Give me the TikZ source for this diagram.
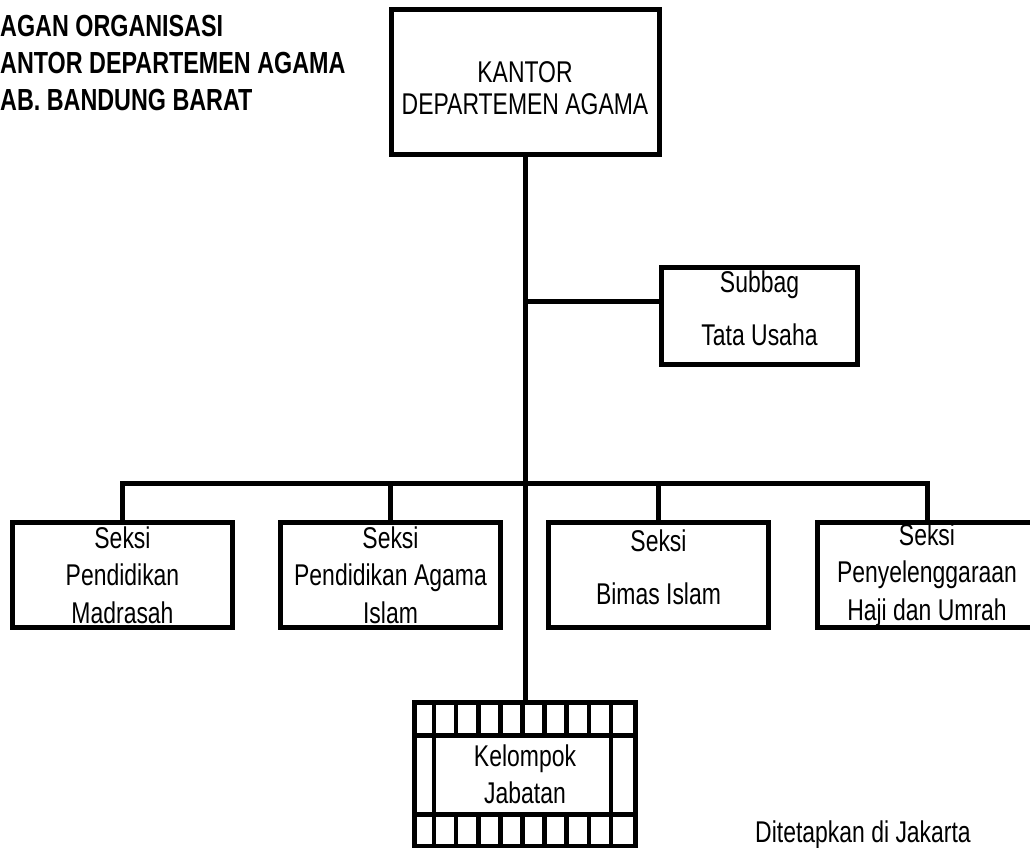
\documentclass[tikz,border=0pt]{standalone}
\usepackage{fontspec}
\setmainfont{Liberation Sans}[FakeStretch=0.765]
\usetikzlibrary{calc}

\begin{document}
\begin{tikzpicture}[x=1pt, y=-1pt,
  unitbox/.style={draw, line width=5pt, align=center, inner sep=0pt,
    font=\fontsize{30}{37.5}\selectfont},
  seksi/.style={unitbox, minimum width=220pt, minimum height=105pt},
  conn/.style={line width=5pt},
  jabline/.style={line width=4.5pt},
]
\useasboundingbox (0,0) rectangle (1030,848);

% Title
\node[anchor=north west, align=left, inner sep=0pt,
  font=\fontsize{30.5}{37}\selectfont\bfseries] (title) at (0,15) {%
  AGAN ORGANISASI\\
  ANTOR DEPARTEMEN AGAMA\\
  AB. BANDUNG BARAT};

% Kantor
\node[unitbox, minimum width=268pt, minimum height=145pt,
  font=\fontsize{30}{32}\selectfont] (kantor) at (525,82) {%
  \rule{0pt}{33pt}KANTOR\\
  DEPARTEMEN AGAMA};

% Subbag
\node[unitbox, minimum width=196pt, minimum height=97pt, text depth=16pt]
  (subbag) at (759.5,316) {%
  Subbag\\[16pt]
  Tata Usaha};

% Seksi
\node[seksi] (madrasah) at (122.5,575) {Seksi\\ Pendidikan\\ Madrasah};
\node[seksi] (pai) at (390.5,575) {Seksi\\ Pendidikan Agama\\ Islam};
\node[seksi, text depth=16pt] (bimas) at (658.5,575) {Seksi\\[16pt] Bimas Islam};
\node[seksi] (haji) at (927,575) {Seksi\\ Penyelenggaraan\\ Haji dan Umrah};

% Kelompok Jabatan
\node[unitbox, minimum width=221pt, minimum height=143.5pt] (jab) at (525,774.25) {%
  Kelompok\\
  Jabatan};
\draw[jabline] ($(jab.north west)+(0,35.5)$) -- ($(jab.north east)+(0,35.5)$);
\draw[jabline] ($(jab.south west)+(0,-34)$) -- ($(jab.south east)+(0,-34)$);
\foreach \i in {1,9}
  \draw[jabline] ($(jab.north west)+(\i*22.1,0)$) -- ($(jab.south west)+(\i*22.1,0)$);
\foreach \i in {2,...,8}{
  \draw[jabline] ($(jab.north west)+(\i*22.1,0)$) -- ++(0,35.5);
  \draw[jabline] ($(jab.south west)+(\i*22.1,0)$) -- ++(0,-34);
}

% Ditetapkan
\node[anchor=base west, inner sep=0pt, font=\fontsize{30}{37.5}\selectfont]
  (tetap) at (755,842) {Ditetapkan di Jakarta};

% Connectors
\coordinate (sbjoin) at (525,301);
\coordinate (bus) at (525,483);
\draw[conn] (kantor.south) -- (jab.north);
\draw[conn] (sbjoin) -- (sbjoin -| subbag.west);
\draw[conn] (madrasah.north) |- (bus) -| (haji.north);
\draw[conn] (pai.north) -- (pai.north |- bus);
\draw[conn] (bimas.north) -- (bimas.north |- bus);

\end{tikzpicture}
\end{document}
